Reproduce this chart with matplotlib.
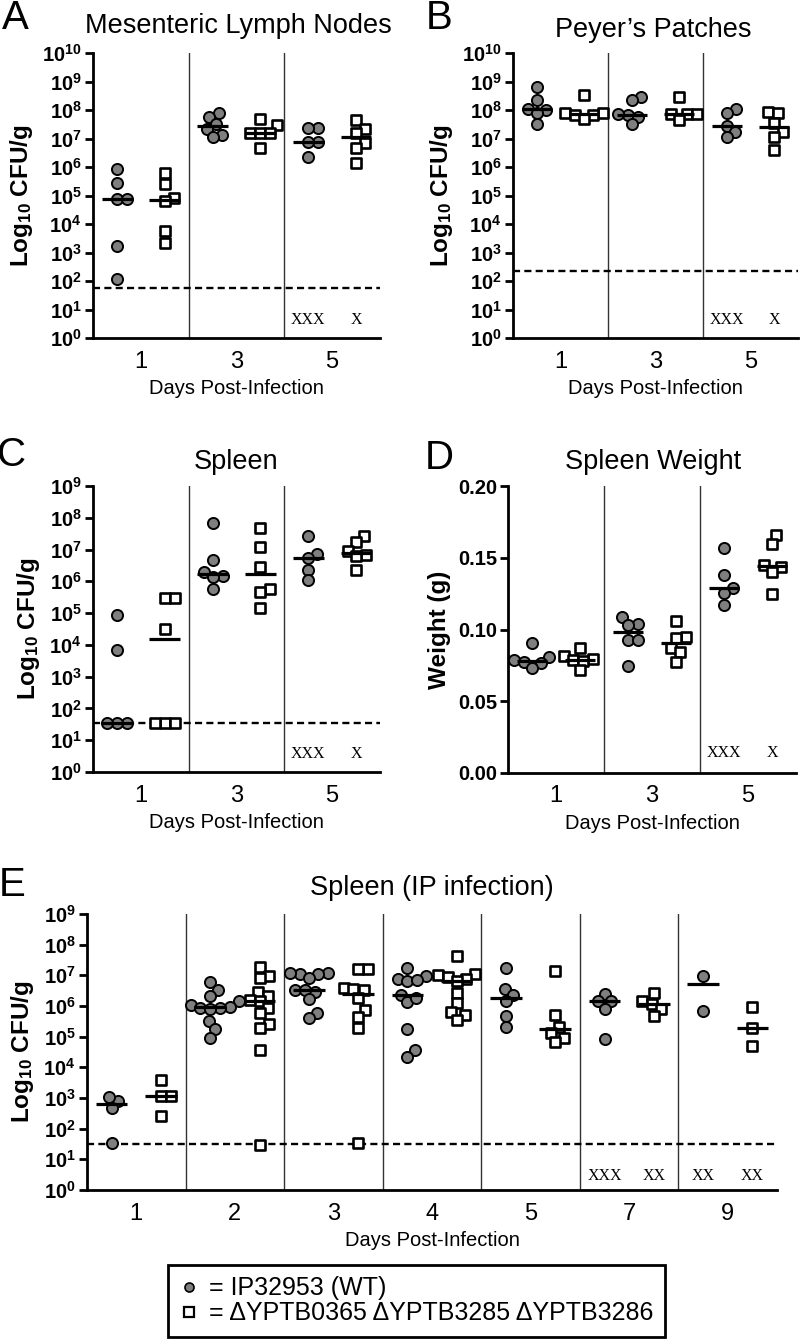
import numpy as np
import matplotlib
matplotlib.use('Agg')
import matplotlib.pyplot as plt
from matplotlib.lines import Line2D
from matplotlib.ticker import FixedLocator, NullLocator

plt.rcParams['font.family'] = ['Liberation Sans', 'DejaVu Sans']
plt.rcParams['mathtext.fontset'] = 'custom'
plt.rcParams['mathtext.rm'] = 'Liberation Sans'
plt.rcParams['mathtext.bf'] = 'Liberation Sans:bold'
plt.rcParams['mathtext.default'] = 'bf'

# ---- data (log10 CFU/g unless noted) ----
oral_days = ['1', '3', '5']
ip_days = ['1', '2', '3', '4', '5', '7', '9']

mln_wt = [[5.45, 5.92, 4.87, 4.89, 3.24, 2.07],
          [7.88, 7.76, 7.50, 7.35, 7.12, 7.06],
          [7.37, 7.37, 6.88, 6.88, 6.34]]
mln_mut = [[4.90, 4.80, 5.40, 5.80, 3.76, 3.33],
           [7.67, 7.47, 7.20, 7.20, 7.20, 6.65],
           [7.64, 7.35, 7.18, 6.83, 6.67, 6.15]]
mln_lod = 56

pp_wt = [[8.79, 7.99, 8.34, 8.05, 7.88, 7.50],
         [8.44, 8.34, 7.82, 7.85, 7.76, 7.50],
         [8.02, 7.90, 7.43, 7.23, 7.06]]
pp_mut = [[8.54, 7.90, 7.88, 7.82, 7.82, 7.67],
          [8.44, 7.85, 7.85, 7.85, 7.64],
          [7.93, 7.88, 7.55, 7.23, 7.06, 6.59]]
pp_lod = 220

spl_wt = [[4.93, 3.85, 1.54, 1.54, 1.54],
          [7.84, 6.66, 6.16, 6.30, 6.14, 5.77],
          [7.42, 6.87, 6.72, 6.35, 6.03]]
spl_mut = [[5.46, 5.46, 4.50, 1.54, 1.54, 1.54],
           [7.69, 7.08, 6.45, 5.77, 5.67, 5.17],
           [7.42, 7.24, 6.96, 6.82, 6.79, 6.37]]
spl_lod = 35

# spleen weight in grams
wgt_wt = [[0.0905, 0.0807, 0.0784, 0.0776, 0.0766, 0.0731],
          [0.1086, 0.1040, 0.1032, 0.0928, 0.0928, 0.0749],
          [0.157, 0.138, 0.1288, 0.1253, 0.1172]]
wgt_mut = [[0.087, 0.0812, 0.0793, 0.0785, 0.0782, 0.0715],
           [0.1056, 0.0951, 0.0940, 0.0870, 0.0840, 0.0777],
           [0.166, 0.1596, 0.145, 0.1435, 0.1404, 0.1248]]

ip_wt = [[2.91, 3.02, 2.67, 1.52],
         [6.77, 6.53, 6.31, 6.15, 6.04, 5.98, 5.93, 5.93, 5.90, 5.50, 5.24, 4.95],
         [7.05, 7.09, 7.09, 7.05, 6.91, 6.47, 6.53, 6.53, 6.22, 5.77, 5.60],
         [7.24, 6.99, 6.88, 6.80, 6.86, 6.37, 6.12, 6.26, 5.24, 4.55, 4.33],
         [7.24, 6.55, 6.37, 6.15, 5.66, 5.30],
         [6.40, 6.15, 6.15, 5.90, 4.93],
         [6.99, 5.85]]
ip_mut = [[3.59, 3.07, 3.07, 2.42],
          [7.27, 6.99, 6.91, 6.47, 6.31, 6.20, 6.15, 5.93, 5.77, 5.42, 5.28, 4.57, 1.47],
          [7.20, 7.20, 6.58, 6.55, 6.51, 6.26, 5.88, 5.64, 5.28, 1.52],
          [7.62, 7.05, 7.02, 6.96, 6.88, 6.80, 6.42, 6.09, 5.82, 5.71, 5.55],
          [7.13, 5.71, 5.33, 5.11, 4.95, 4.81],
          [6.42, 6.15, 6.07, 5.90, 5.66],
          [5.96, 5.28, 4.68]]
ip_lod = 32

# dead animals (one X each)
oral_dead_wt = ['', '', 'XXX']
oral_dead_mut = ['', '', 'X']
ip_dead_wt = ['', '', '', '', '', 'XXX', 'XX']
ip_dead_mut = ['', '', '', '', '', 'XX', 'XX']

W, H = 800, 1344
fig = plt.figure(figsize=(W / 100, H / 100), dpi=100)

wt_style = dict(marker='o', facecolor='#7f7f7f', edgecolor='black', linewidths=1.4, s=64, zorder=3)
mut_style = dict(marker='s', facecolor='white', edgecolor='black', linewidths=1.9, s=52, zorder=3)


def swarm(ypix, d):
    # simple beeswarm: put each point as close to the centre as possible
    xs = np.zeros(len(ypix))
    placed = []
    for i in np.argsort(ypix):
        y = ypix[i]
        near = [(px, py) for px, py in placed if abs(py - y) < d]
        cands = [0.0]
        for px, py in near:
            w = np.sqrt(d ** 2 - (py - y) ** 2)
            cands += [px + w, px - w]
        cands.sort(key=abs)
        for c in cands:
            if all((c - px) ** 2 + (y - py) ** 2 >= d ** 2 - 1e-6 for px, py in near):
                xs[i] = c
                break
        placed.append((xs[i], y))
    return xs


def make_axes(left, right, top, bottom, cats, log, ymax, ylabel):
    ax = fig.add_axes([left / W, 1 - bottom / H, (right - left) / W, (bottom - top) / H])
    n = len(cats)
    ax.set_xlim(-0.5, n - 0.5)
    if log:
        ax.set_yscale('log')
        ax.set_ylim(1, 10 ** ymax)
        ks = np.arange(0, ymax + 1)
        ax.yaxis.set_major_locator(FixedLocator(10.0 ** ks))
        ax.yaxis.set_minor_locator(NullLocator())
        ax.set_yticklabels(['$10^{%d}$' % k for k in ks])
    else:
        ax.set_ylim(0, ymax)
        ticks = np.linspace(0, ymax, 5)
        ax.set_yticks(ticks)
        ax.set_yticklabels(['%.2f' % t for t in ticks], fontweight='bold')
    ax.set_xticks(range(n))
    ax.set_xticklabels(cats, fontsize=17)
    for s in ['top', 'right']:
        ax.spines[s].set_visible(False)
    for s in ['left', 'bottom']:
        ax.spines[s].set_linewidth(2)
    ax.tick_params(axis='y', length=6, width=2, labelsize=14.5, pad=2)
    ax.tick_params(axis='x', length=0, pad=9)
    ax.set_ylabel(ylabel, fontsize=17.5, fontweight='bold', labelpad=5)
    ax.set_xlabel('Days Post-Infection', fontsize=14.5, labelpad=5)
    for k in range(n - 1):
        ax.axvline(k + 0.5, color='#333333', lw=1.0, zorder=1)
    return ax


def draw_groups(ax, wt, mut, log):
    px_unit = ax.transData.transform((1, 1))[0] - ax.transData.transform((0, 1))[0]
    for g in range(len(wt)):
        for vals, off, style in ((wt[g], -0.25, wt_style), (mut[g], 0.25, mut_style)):
            v = 10.0 ** np.array(vals) if log else np.array(vals)
            ypix = ax.transData.transform(np.column_stack([np.full(len(v), g + off), v]))[:, 1]
            xs = g + off + swarm(ypix, 10.0) / px_unit
            ax.scatter(xs, v, **style)
            med = np.median(v)
            ax.plot([g + off - 0.16, g + off + 0.16], [med, med], color='black', lw=2.3,
                    solid_capstyle='butt', zorder=4)


def draw_dead(ax, dead_wt, dead_mut, yfrac):
    trans = ax.get_xaxis_transform()
    for g in range(len(dead_wt)):
        for txt, off in ((dead_wt[g], -0.25), (dead_mut[g], 0.25)):
            if txt:
                ax.text(g + off, yfrac, txt, transform=trans, ha='center', va='center',
                        fontsize=11.5, family='Liberation Serif')


def lod_line(ax, lod):
    ax.axhline(lod, color='black', lw=1.7, ls=(0, (3, 1.8)), zorder=2)


ylab = 'Log$_{10}$ CFU/g'

# A
axA = make_axes(93, 380, 53, 338, oral_days, True, 10, ylab)
lod_line(axA, mln_lod)
draw_groups(axA, mln_wt, mln_mut, True)
draw_dead(axA, oral_dead_wt, oral_dead_mut, 0.062)

# B
axB = make_axes(513, 798, 53, 338, oral_days, True, 10, ylab)
lod_line(axB, pp_lod)
draw_groups(axB, pp_wt, pp_mut, True)
draw_dead(axB, oral_dead_wt, oral_dead_mut, 0.062)

# C
axC = make_axes(93, 380, 486, 772, oral_days, True, 9, ylab)
lod_line(axC, spl_lod)
draw_groups(axC, spl_wt, spl_mut, True)
draw_dead(axC, oral_dead_wt, oral_dead_mut, 0.064)

# D
axD = make_axes(508, 796, 486, 773, oral_days, False, 0.20, 'Weight (g)')
draw_groups(axD, wgt_wt, wgt_mut, False)
draw_dead(axD, oral_dead_wt, oral_dead_mut, 0.07)

# E
axE = make_axes(87, 777, 914, 1190, ip_days, True, 9, ylab)
lod_line(axE, ip_lod)
draw_groups(axE, ip_wt, ip_mut, True)
draw_dead(axE, ip_dead_wt, ip_dead_mut, 0.051)

# titles and panel letters (pixel positions)
titles = [('Mesenteric Lymph Nodes', 238, 26), ("Peyer\u2019s Patches", 653, 30),
          ('Spleen', 236, 462), ('Spleen Weight', 653, 462),
          ('Spleen (IP infection)', 432, 888)]
for t, x, y in titles:
    fig.text(x / W, 1 - y / H, t, ha='center', va='center', fontsize=19.5)

letters = [('A', 15, 18), ('B', 439, 18), ('C', 12, 455), ('D', 439, 458), ('E', 12, 885)]
for t, x, y in letters:
    fig.text(x / W, 1 - y / H, t, ha='center', va='center', fontsize=29)

handles = [Line2D([], [], ls='', marker='o', mfc='#7f7f7f', mec='black', mew=1.2, ms=6.5),
           Line2D([], [], ls='', marker='s', mfc='white', mec='black', mew=1.6, ms=6.5)]
leg = fig.legend(handles, ['= IP32953 (WT)', '= \u0394YPTB0365 \u0394YPTB3285 \u0394YPTB3286'],
                 loc='upper left', bbox_to_anchor=(168 / W, 1 - 1265 / H), fontsize=18,
                 frameon=True, fancybox=False, edgecolor='black', framealpha=1,
                 handlelength=0.8, handletextpad=0.4, borderpad=0.45, labelspacing=0.05,
                 borderaxespad=0)
leg.get_frame().set_linewidth(2)

fig.savefig('out.png', dpi=100)
